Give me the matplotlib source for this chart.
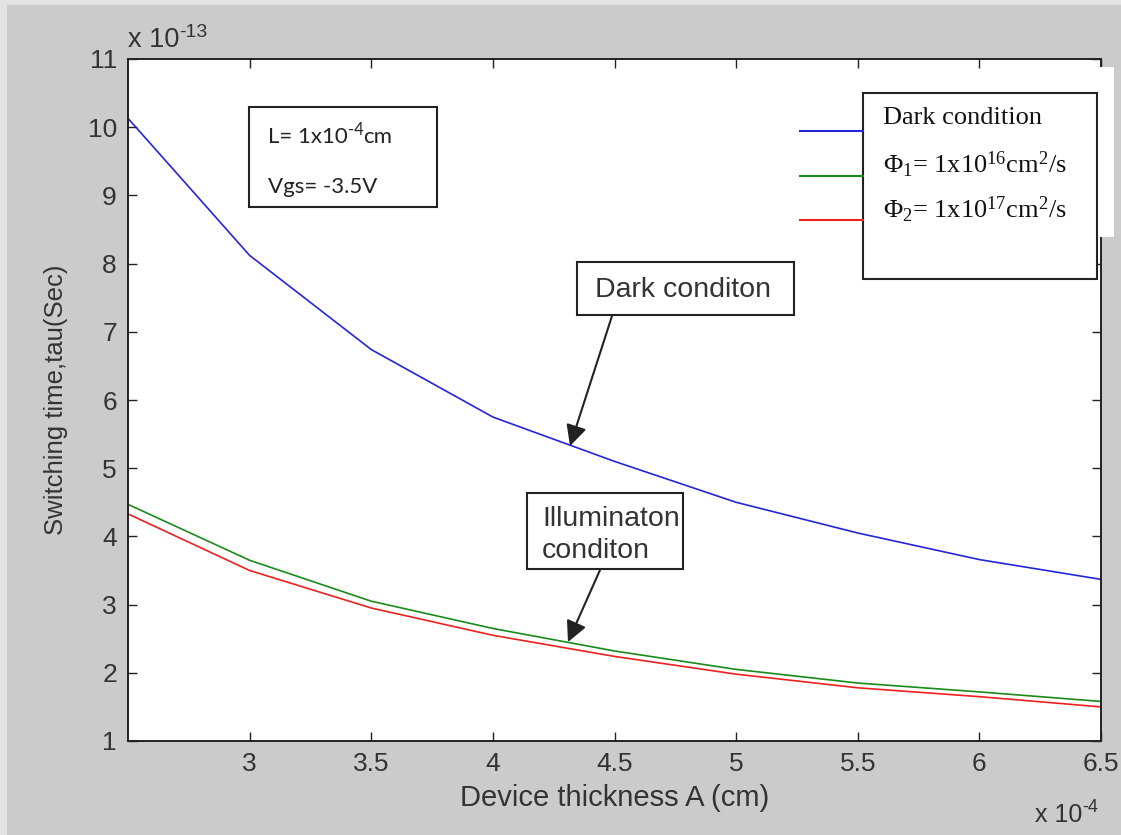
import matplotlib
matplotlib.use("Agg")
import matplotlib.pyplot as plt
from matplotlib.patches import Rectangle, FancyArrowPatch

# ---------------- data ----------------
# Device thickness A in units of 1e-4 cm
thickness = [2.5, 3.0, 3.5, 4.0, 4.5, 5.0, 5.5, 6.0, 6.5]
# Switching time tau in units of 1e-13 s
tau_dark = [10.13, 8.12, 6.74, 5.75, 5.10, 4.50, 4.05, 3.66, 3.37]
tau_phi1 = [4.47, 3.65, 3.05, 2.65, 2.32, 2.05, 1.85, 1.72, 1.58]
tau_phi2 = [4.33, 3.50, 2.95, 2.55, 2.24, 1.98, 1.78, 1.65, 1.50]

x_ticks = [3, 3.5, 4, 4.5, 5, 5.5, 6, 6.5]
x_ticklabels = ["3", "3.5", "4", "4.5", "5", "5.5", "6", "6.5"]
y_ticks = [1, 2, 3, 4, 5, 6, 7, 8, 9, 10, 11]

legend_labels = ["Dark condition",
                 "Φ$_1$= 1x10$^{16}$cm$^2$/s",
                 "Φ$_2$= 1x10$^{17}$cm$^2$/s"]
colors = ["#2525dd", "#1a8a1a", "#ee2020"]

# ---------------- figure ----------------
plt.rcParams["font.family"] = ["Liberation Sans", "DejaVu Sans"]
plt.rcParams["mathtext.default"] = "regular"

W, H = 1121, 835
fig = plt.figure(figsize=(W / 100, H / 100), dpi=100, facecolor="#cbcbcb")

# light border strips of the screenshot
fig.add_artist(Rectangle((0, 1 - 5 / H), 1, 5 / H, transform=fig.transFigure,
                         facecolor="#e2e2e2", edgecolor="none", zorder=0))
fig.add_artist(Rectangle((0, 0), 7 / W, 1, transform=fig.transFigure,
                         facecolor="#e2e2e2", edgecolor="none", zorder=0))

L, R, T, B = 128, 1101, 59, 741
ax = fig.add_axes([L / W, 1 - B / H, (R - L) / W, (B - T) / H])
ax.set_facecolor("white")

ax.plot(thickness, tau_dark, color=colors[0], lw=1.2)
ax.plot(thickness, tau_phi1, color=colors[1], lw=1.2)
ax.plot(thickness, tau_phi2, color=colors[2], lw=1.2)

ax.set_xlim(2.5, 6.5)
ax.set_ylim(1, 11)
ax.set_xticks(x_ticks)
ax.set_xticklabels(x_ticklabels)
ax.set_yticks(y_ticks)
ax.tick_params(direction="in", length=6.5, width=1.0, labelsize=19,
               top=True, right=True, pad=8, colors="#222222",
               labelcolor="#333333")
for s in ax.spines.values():
    s.set_linewidth(1.4)
    s.set_color("#222222")

ax.set_xlabel("Device thickness A (cm)", fontsize=21, color="#333333",
              labelpad=6)
ax.set_ylabel("Switching time,tau(Sec)", fontsize=18.5, color="#333333",
              labelpad=14)


def with_sup(parent_text, sup, size, after=None, **kw):
    """attach a hyphen superscript (and optional trailing text)"""
    s = ax.annotate(sup, xy=(1.0, 0.62), xycoords=parent_text,
                    fontsize=size, va="baseline", ha="left", **kw)
    if after is not None:
        ax.annotate(after, xy=(1.0, 0.0), xycoords=(s, parent_text),
                    fontsize=parent_text.get_fontsize(), va="bottom",
                    ha="left", **kw)
    return s


base13 = fig.text(L / W, 1 - 40 / H, "x 10", fontsize=19.5, color="#333333",
                  ha="left", va="center")
with_sup(base13, "-13", 14, color="#333333")
base4 = fig.text(1082 / W, 1 - 815 / H, "x 10", fontsize=18, color="#333333",
                 ha="right", va="center")
with_sup(base4, "-4", 13, color="#333333")


def fr(px, py):
    """reference pixel -> axes fraction"""
    return ((px - L) / (R - L), (B - py) / (B - T))


def rect_px(x0, y0, x1, y1):
    a = fr(x0, y1)
    b = fr(x1, y0)
    r = Rectangle(a, b[0] - a[0], b[1] - a[1], transform=ax.transAxes,
                  facecolor="white", edgecolor="#222222", lw=1.5, zorder=5)
    ax.add_patch(r)


# parameter box
rect_px(249, 107, 437, 207)
lbase = ax.text(*fr(268, 137), "L= 1x10", transform=ax.transAxes,
                fontsize=16, family=["Lato", "DejaVu Sans"], va="center",
                ha="left", zorder=6, color="#222222")
with_sup(lbase, "-4", 12, after="cm", family=["Lato", "DejaVu Sans"],
         zorder=6, color="#222222")
ax.text(*fr(268, 187), "Vgs= -3.5V", transform=ax.transAxes,
        fontsize=16, family=["Lato", "DejaVu Sans"], va="center",
        ha="left", zorder=6, color="#222222")

# legend
rect_px(863, 93, 1097, 279)
for lab, c, ly, ty in zip(legend_labels, colors, [131, 176, 220],
                          [118, 165, 210]):
    p0 = fr(800, ly)
    p1 = fr(863, ly)
    ax.plot([p0[0], p1[0]], [p0[1], p1[1]], color=c, lw=1.5,
            transform=ax.transAxes, zorder=6, clip_on=False)
    ax.text(*fr(883, ty), lab, transform=ax.transAxes, fontsize=19,
            family=["Liberation Serif", "DejaVu Serif"], va="center",
            ha="left", zorder=6, color="#111111")

# annotation boxes
rect_px(577, 262, 794, 315)
ax.text(*fr(683, 290), "Dark conditon", transform=ax.transAxes,
        fontsize=20.5, va="center", ha="center", zorder=6, color="#333333")
rect_px(527, 493, 683, 569)
ax.text(*fr(542, 519), "Illuminaton", transform=ax.transAxes,
        fontsize=20.5, va="center", ha="left", zorder=6, color="#333333")
ax.text(*fr(542, 551), "conditon", transform=ax.transAxes,
        fontsize=20.5, va="center", ha="left", zorder=6, color="#333333")

# arrows
for start, end in [((612, 316), (570, 446)), ((600, 570), (568, 642))]:
    arr = FancyArrowPatch(fr(*start), fr(*end), transform=ax.transAxes,
                          arrowstyle="-|>,head_length=0.7,head_width=0.35",
                          mutation_scale=18, color="#222222", lw=1.5,
                          zorder=7, shrinkA=0, shrinkB=0)
    ax.add_patch(arr)

# white patch covering the right spine near the legend (as in the image)
fig.add_artist(Rectangle((1098 / W, 1 - 237 / H), 16 / W, 170 / H,
                         transform=fig.transFigure, facecolor="white",
                         edgecolor="none", zorder=10))

fig.savefig("out.png", dpi=100, facecolor=fig.get_facecolor())
